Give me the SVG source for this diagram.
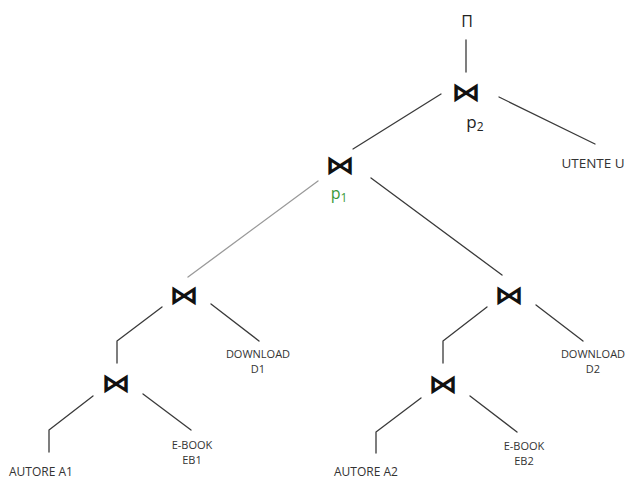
<svg xmlns="http://www.w3.org/2000/svg" width="631" height="479" viewBox="0 0 631 479">
<style>
  .edge{fill:none;stroke:#3a3a3a;stroke-width:1.3;stroke-linecap:round;stroke-linejoin:round}
  .light{stroke:#9a9a9a}
  .join{font-family:"DejaVu Sans",sans-serif;font-size:26px;font-weight:bold;fill:#111;text-anchor:middle;dominant-baseline:central}
  .lbl{font-family:"Open Sans","Liberation Sans",sans-serif;font-size:11px;fill:#333;text-anchor:middle}
  .big{font-size:13.5px}
  .pred{font-family:"Open Sans","Liberation Sans",sans-serif;font-size:17px;fill:#222;text-anchor:middle}
  .green{fill:#3a9a3a}
</style>
<rect width="631" height="479" fill="#fff"/>
<g id="connectors">
  <line class="edge" x1="466" y1="40" x2="466" y2="72"/>
  <line class="edge" x1="441" y1="94" x2="353" y2="149"/>
  <line class="edge" x1="499" y1="97" x2="595" y2="144"/>
  <line class="edge light" x1="318" y1="181" x2="188" y2="277"/>
  <line class="edge" x1="371" y1="178" x2="502" y2="275"/>
  <line class="edge" x1="211" y1="304" x2="259" y2="341"/>
  <polyline class="edge" points="162,307 117,341 117,363"/>
  <polyline class="edge" points="93,396 49,430 49,452"/>
  <line class="edge" x1="143" y1="394" x2="191" y2="430"/>
  <line class="edge" x1="536" y1="305" x2="583" y2="341"/>
  <polyline class="edge" points="487,307 443,341 443,363"/>
  <polyline class="edge" points="421,398 376,432 376,453"/>
  <line class="edge" x1="470" y1="396" x2="517" y2="432"/>
</g>
<g id="projection"><text class="pred" x="467" y="27" style="font-size:16px">Π</text></g>
<g id="join-p2">
  <text class="join" transform="translate(466,92) scale(1.15,1)">⋈</text>
  <text class="pred" x="475" y="128">p<tspan font-size="12" dy="3">2</tspan></text>
</g>
<g id="utente"><text class="lbl big" x="593" y="168">UTENTE U</text></g>
<g id="join-p1">
  <text class="join" transform="translate(340,165) scale(1.15,1)">⋈</text>
  <text class="pred green" x="339" y="199" style="font-size:16px">p<tspan font-size="12" dy="3">1</tspan></text>
</g>
<g id="join-left"><text class="join" transform="translate(184,295) scale(1.15,1)">⋈</text></g>
<g id="download-d1"><text class="lbl" x="258" y="358">DOWNLOAD</text><text class="lbl" x="258" y="373">D1</text></g>
<g id="join-left-low"><text class="join" transform="translate(116,383) scale(1.15,1)">⋈</text></g>
<g id="autore-a1"><text class="lbl" x="41" y="476" style="font-size:12px">AUTORE A1</text></g>
<g id="ebook-eb1"><text class="lbl" x="192" y="449">E-BOOK</text><text class="lbl" x="192" y="464">EB1</text></g>
<g id="join-right"><text class="join" transform="translate(509,295) scale(1.15,1)">⋈</text></g>
<g id="download-d2"><text class="lbl" x="593" y="358">DOWNLOAD</text><text class="lbl" x="593" y="373">D2</text></g>
<g id="join-right-low"><text class="join" transform="translate(443,384) scale(1.15,1)">⋈</text></g>
<g id="autore-a2"><text class="lbl" x="366" y="476" style="font-size:12px">AUTORE A2</text></g>
<g id="ebook-eb2"><text class="lbl" x="524" y="450">E-BOOK</text><text class="lbl" x="524" y="465">EB2</text></g>
</svg>
